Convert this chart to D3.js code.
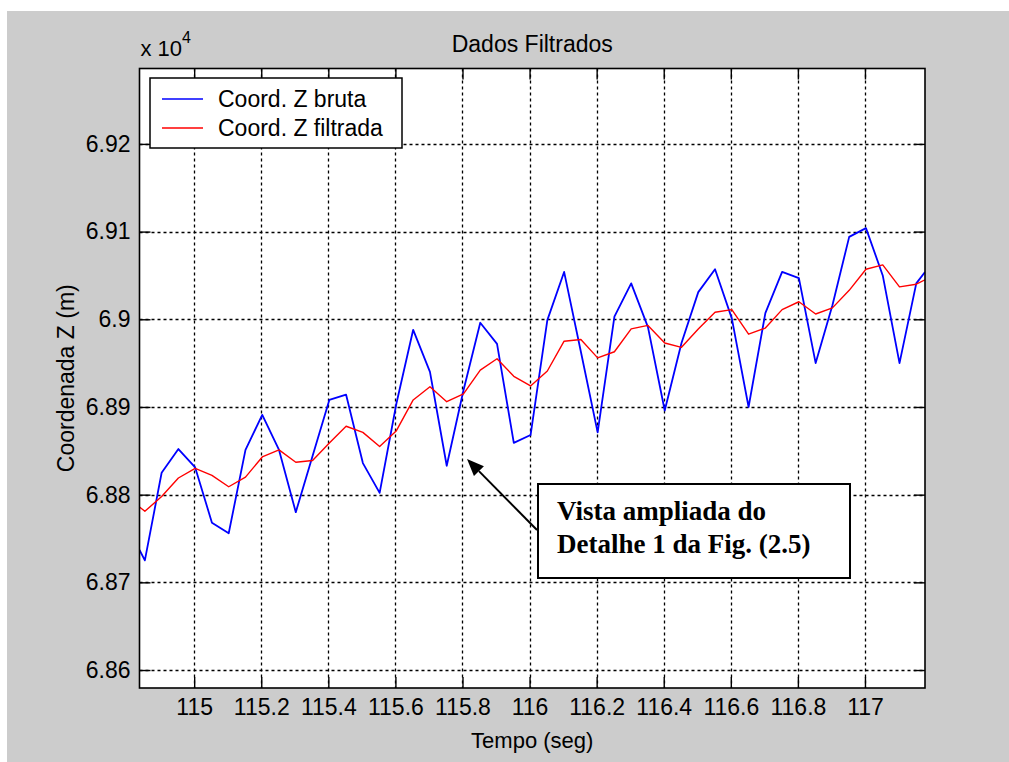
<!DOCTYPE html>
<html>
<head>
<meta charset="utf-8">
<script src="https://cdn.jsdelivr.net/npm/d3@7/dist/d3.min.js"></script>
<style>
  body { margin: 0; background: #ffffff; }
  svg { display: block; }
</style>
</head>
<body>
<svg id="chart" width="1009" height="762"></svg>
<script>
// Sample times (s) of the zoomed window
const timeSec = [114.837, 114.853, 114.903, 114.953, 115.003, 115.053, 115.103, 115.153, 115.203,
  115.253, 115.303, 115.353, 115.403, 115.453, 115.503, 115.553, 115.603, 115.653, 115.703,
  115.753, 115.803, 115.853, 115.903, 115.953, 116.003, 116.053, 116.103, 116.153, 116.203,
  116.253, 116.303, 116.353, 116.403, 116.453, 116.503, 116.553, 116.603, 116.653, 116.703,
  116.753, 116.803, 116.853, 116.903, 116.953, 117.003, 117.053, 117.103, 117.153, 117.179];

// Raw Z coordinate (m)
const rawZ = [68737, 68725, 68825, 68852, 68831, 68768, 68756, 68851, 68891, 68851, 68780,
  68844, 68908, 68914, 68836, 68802, 68904, 68988, 68940, 68833, 68919, 68996, 68972, 68859,
  68868, 68999, 69054, 68963, 68871, 69003, 69041, 68991, 68896, 68973, 69031, 69057, 69001,
  68900, 69007, 69054, 69047, 68950, 69016, 69094, 69104, 69050, 68950, 69041, 69054];

// Filtered Z coordinate (m)
const filteredZ = [68786, 68781, 68798, 68819, 68830, 68822, 68809, 68820, 68843, 68851, 68837,
  68839, 68859, 68878, 68871, 68855, 68873, 68908, 68923, 68906, 68915, 68942, 68955, 68935,
  68924, 68941, 68975, 68977, 68956, 68963, 68989, 68993, 68973, 68968, 68989, 69008, 69011,
  68983, 68990, 69011, 69020, 69006, 69013, 69033, 69057, 69062, 69037, 69040, 69045];

const xTicks = [115, 115.2, 115.4, 115.6, 115.8, 116, 116.2, 116.4, 116.6, 116.8, 117];
const yTicks = [68600, 68700, 68800, 68900, 69000, 69100, 69200];
const xLimits = [114.837, 117.179];
const yLimits = [68579.5, 69286];
const seriesNames = ["Coord. Z bruta", "Coord. Z filtrada"];
const seriesColors = ["#0000ff", "#ff0000"];
const titleText = "Dados Filtrados";
const xLabelText = "Tempo (seg)";
const yLabelText = "Coordenada Z (m)";
const noteLines = ["Vista ampliada do", "Detalhe 1 da Fig. (2.5)"];

const svg = d3.select("#chart");
const W = 1009, H = 762;
const plot = { left: 139.5, top: 68.5, right: 925, bottom: 688 };
const uiFont = "'Liberation Sans', Arial, sans-serif";

// figure background
svg.append("rect").attr("x", 0).attr("y", 0).attr("width", W).attr("height", H).attr("fill", "#ffffff");
svg.append("rect").attr("x", 7).attr("y", 11).attr("width", W - 7).attr("height", H - 11).attr("fill", "#cccccc");

const x = d3.scaleLinear().domain(xLimits).range([plot.left, plot.right]);
const y = d3.scaleLinear().domain(yLimits).range([plot.bottom, plot.top]);

// axes area
svg.append("rect")
  .attr("x", plot.left).attr("y", plot.top)
  .attr("width", plot.right - plot.left).attr("height", plot.bottom - plot.top)
  .attr("fill", "#ffffff");

svg.append("clipPath").attr("id", "plotClip")
  .append("rect")
  .attr("x", plot.left).attr("y", plot.top)
  .attr("width", plot.right - plot.left).attr("height", plot.bottom - plot.top);

// dotted grid
const grid = svg.append("g").attr("stroke", "#000").attr("stroke-width", 1.3)
  .attr("stroke-dasharray", "3,3").attr("fill", "none");
grid.selectAll("line.vx").data(xTicks).join("line")
  .attr("x1", d => Math.round(x(d)) + 0.5).attr("x2", d => Math.round(x(d)) + 0.5)
  .attr("y1", plot.top).attr("y2", plot.bottom);
grid.selectAll("line.hy").data(yTicks).join("line")
  .attr("y1", d => Math.round(y(d)) + 0.5).attr("y2", d => Math.round(y(d)) + 0.5)
  .attr("x1", plot.left).attr("x2", plot.right);

// data lines
const seriesData = [rawZ, filteredZ];
const lineGen = (vals) => d3.line().x((d, i) => x(timeSec[i])).y(d => y(d))(vals);
const lines = svg.append("g").attr("clip-path", "url(#plotClip)");
lines.selectAll("path").data(seriesData).join("path")
  .attr("d", d => lineGen(d))
  .attr("fill", "none")
  .attr("stroke", (d, i) => seriesColors[i])
  .attr("stroke-width", (d, i) => i === 0 ? 1.8 : 1.4)
  .attr("stroke-linejoin", "round");

// axes with inward ticks on all four sides
const tickLen = 11;
const fmtX = d => String(+d.toFixed(1));
const fmtY = d => String(+(d / 1e4).toFixed(4));

const axBottom = d3.axisBottom(x).tickValues(xTicks).tickSize(-tickLen).tickPadding(11).tickFormat(fmtX);
const axTop = d3.axisTop(x).tickValues(xTicks).tickSize(-tickLen).tickFormat("");
const axLeft = d3.axisLeft(y).tickValues(yTicks).tickSize(-tickLen).tickPadding(9).tickFormat(fmtY);
const axRight = d3.axisRight(y).tickValues(yTicks).tickSize(-tickLen).tickFormat("");

function styleAxis(g) {
  g.select(".domain").remove();
  g.selectAll(".tick line").attr("stroke", "#000").attr("stroke-width", 1.4);
  g.selectAll(".tick text").attr("fill", "#000").style("font-family", uiFont).style("font-size", "23px");
}
svg.append("g").attr("transform", `translate(0,${plot.bottom})`).call(axBottom).call(styleAxis);
svg.append("g").attr("transform", `translate(0,${plot.top})`).call(axTop).call(styleAxis);
svg.append("g").attr("transform", `translate(${plot.left},0)`).call(axLeft).call(styleAxis);
svg.append("g").attr("transform", `translate(${plot.right},0)`).call(axRight).call(styleAxis);

// axes box
svg.append("rect")
  .attr("x", plot.left).attr("y", plot.top)
  .attr("width", plot.right - plot.left).attr("height", plot.bottom - plot.top)
  .attr("fill", "none").attr("stroke", "#000").attr("stroke-width", 1.6);

// exponent marker
const expo = svg.append("text").attr("x", plot.left + 1).attr("y", 56)
  .style("font-family", uiFont).style("font-size", "22px").attr("fill", "#000");
expo.append("tspan").text("x 10");
expo.append("tspan").attr("dy", -13).style("font-size", "16px").text("4");

// title and axis labels
svg.append("text").attr("x", (plot.left + plot.right) / 2).attr("y", 52)
  .attr("text-anchor", "middle").style("font-family", uiFont).style("font-size", "23px")
  .text(titleText);
svg.append("text").attr("x", (plot.left + plot.right) / 2).attr("y", 748)
  .attr("text-anchor", "middle").style("font-family", uiFont).style("font-size", "22px")
  .text(xLabelText);
svg.append("text")
  .attr("transform", `translate(74,${(plot.top + plot.bottom) / 2}) rotate(-90)`)
  .attr("text-anchor", "middle").style("font-family", uiFont).style("font-size", "23px")
  .text(yLabelText);

// legend
const legend = svg.append("g").attr("transform", "translate(150,78)");
legend.append("rect").attr("width", 252).attr("height", 70)
  .attr("fill", "#fff").attr("stroke", "#000").attr("stroke-width", 1.5);
const items = legend.selectAll("g.item").data(seriesNames).join("g")
  .attr("transform", (d, i) => `translate(0,${21 + i * 29})`);
items.append("line").attr("x1", 12).attr("x2", 53).attr("y1", 0).attr("y2", 0)
  .attr("stroke", (d, i) => seriesColors[i]).attr("stroke-width", 1.6);
items.append("text").attr("x", 68).attr("y", 8)
  .style("font-family", uiFont).style("font-size", "23px").text(d => d);

// annotation box with arrow
const note = svg.append("g");
note.append("rect").attr("x", 538).attr("y", 484).attr("width", 312).attr("height", 94)
  .attr("fill", "#fff").attr("stroke", "#000").attr("stroke-width", 2);
note.selectAll("text").data(noteLines).join("text")
  .attr("x", 557).attr("y", (d, i) => 520 + i * 33)
  .style("font-family", "'Liberation Serif', 'Times New Roman', serif")
  .style("font-weight", "bold").style("font-size", "27px").text(d => d);

const arrowFrom = [537, 530], arrowTo = [467, 459];
const ang = Math.atan2(arrowTo[1] - arrowFrom[1], arrowTo[0] - arrowFrom[0]);
const headLen = 17, headHalf = 7;
const bx = arrowTo[0] - headLen * Math.cos(ang), by = arrowTo[1] - headLen * Math.sin(ang);
note.append("line").attr("x1", arrowFrom[0]).attr("y1", arrowFrom[1]).attr("x2", bx).attr("y2", by)
  .attr("stroke", "#000").attr("stroke-width", 2);
note.append("polygon")
  .attr("points", [
    arrowTo,
    [bx + headHalf * Math.sin(ang), by - headHalf * Math.cos(ang)],
    [bx - headHalf * Math.sin(ang), by + headHalf * Math.cos(ang)]
  ].map(p => p.join(",")).join(" "))
  .attr("fill", "#000");
</script>
</body>
</html>
